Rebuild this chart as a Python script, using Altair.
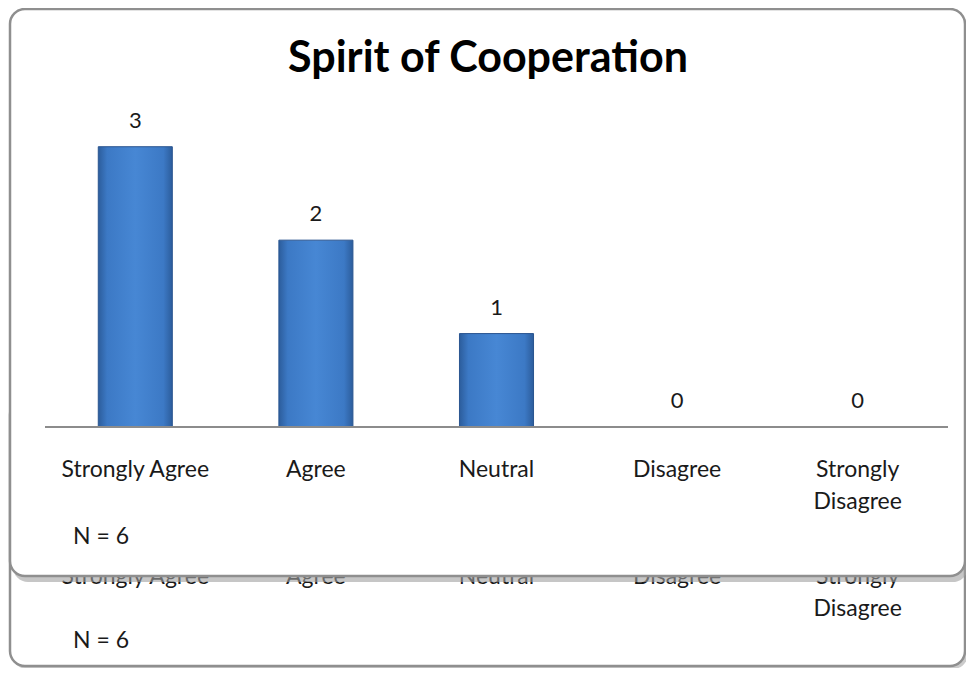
import altair as alt
import pandas as pd

categories = ["Strongly Agree", "Agree", "Neutral", "Disagree", "Strongly Disagree"]
counts = [3, 2, 1, 0, 0]
label_lines = ["Strongly Agree", "Agree", "Neutral", "Disagree", "Strongly\nDisagree"]
title_text = "Spirit of Cooperation"
n_text = "N = 6"

df = pd.DataFrame({"category": categories, "count": counts, "label": label_lines})
one = pd.DataFrame({"t": [n_text], "title": [title_text]})

FONT = "Lato"
W, H = 903, 327
LBL = 23

x_scale = alt.Scale(domain=categories, paddingInner=0.59, paddingOuter=0.295)
y_scale = alt.Scale(domain=[0, 3.5])

x_plain = alt.X("category:N", sort=categories, scale=x_scale, axis=None)


def box(x, x2, y, y2, **kw):
    return alt.Chart(one).mark_rect(**kw).encode(
        x=alt.value(x), x2=alt.value(x2), y=alt.value(y), y2=alt.value(y2))


# back (ghost) frame
back_shadow = box(-33, 923, 303, 569, fill="#a8a8a8", opacity=0.6, cornerRadius=15)
back_frame = box(-35, 920, 300, 566, fill="white", stroke="#8f8f8f", strokeWidth=2.5, cornerRadius=15)

ghost_labels = alt.Chart(df).mark_text(font=FONT, fontSize=LBL, color="#1a1a1a", baseline="top",
                                       lineBreak="\n", lineHeight=32).encode(
    x=x_plain, y=alt.value(466), text="label:N")
ghost_n = alt.Chart(one).mark_text(font=FONT, fontSize=LBL, color="#1a1a1a", baseline="middle",
                                   align="left").encode(
    x=alt.value(28), y=alt.value(541), text="t:N")

# front frame
front_shadow = box(-32, 923, -88, 482, fill="#a0a0a0", opacity=0.6, cornerRadius=15)
front_frame = box(-35, 920, -91, 476, fill="white", stroke="#8f8f8f", strokeWidth=2.5, cornerRadius=15)

bar_fill = alt.Gradient(
    gradient="linear", x1=0, x2=1, y1=0, y2=0,
    stops=[alt.GradientStop(color="#2c5d9c", offset=0),
           alt.GradientStop(color="#3c79c5", offset=0.12),
           alt.GradientStop(color="#4787d4", offset=0.5),
           alt.GradientStop(color="#3c79c5", offset=0.88),
           alt.GradientStop(color="#2c5d9c", offset=1)])

bars = alt.Chart(df).transform_filter("datum.count > 0").mark_bar(
    fill=bar_fill, stroke="#2a5590", strokeWidth=1).encode(
    x=x_plain, y=alt.Y("count:Q", scale=y_scale, axis=None))

baseline = alt.Chart(one).mark_rule(color="#8c8c8c", strokeWidth=2).encode(
    x=alt.value(0), x2=alt.value(W), y=alt.value(H))

values = alt.Chart(df).mark_text(font=FONT, fontSize=22, color="#1a1a1a", baseline="middle", dy=-26).encode(
    x=x_plain, y=alt.Y("count:Q", scale=y_scale, axis=None), text="count:Q")

cat_labels = alt.Chart(df).mark_text(font=FONT, fontSize=LBL, color="#1a1a1a", baseline="top",
                                     lineBreak="\n", lineHeight=32).encode(
    x=x_plain, y=alt.value(359), text="label:N")

n_label = alt.Chart(one).mark_text(font=FONT, fontSize=LBL, color="#1a1a1a", baseline="middle",
                                   align="left").encode(
    x=alt.value(28), y=alt.value(437), text="t:N")

title = alt.Chart(one).mark_text(font=FONT, fontSize=43, fontWeight="bold", color="#000000",
                                 baseline="middle", align="center").encode(
    x=alt.value(443), y=alt.value(-41), text="title:N")

chart = alt.layer(
    back_shadow, back_frame, ghost_labels, ghost_n,
    front_shadow, front_frame,
    bars, baseline, values, cat_labels, n_label, title
).properties(
    width=W, height=H,
    autosize=alt.AutoSizeParams(type="none"),
    padding={"left": 37, "top": 92, "right": 18, "bottom": 241},
).configure_view(stroke=None).configure(background="white")

chart.save("out.html", embed_options={"renderer": "svg", "actions": False})
